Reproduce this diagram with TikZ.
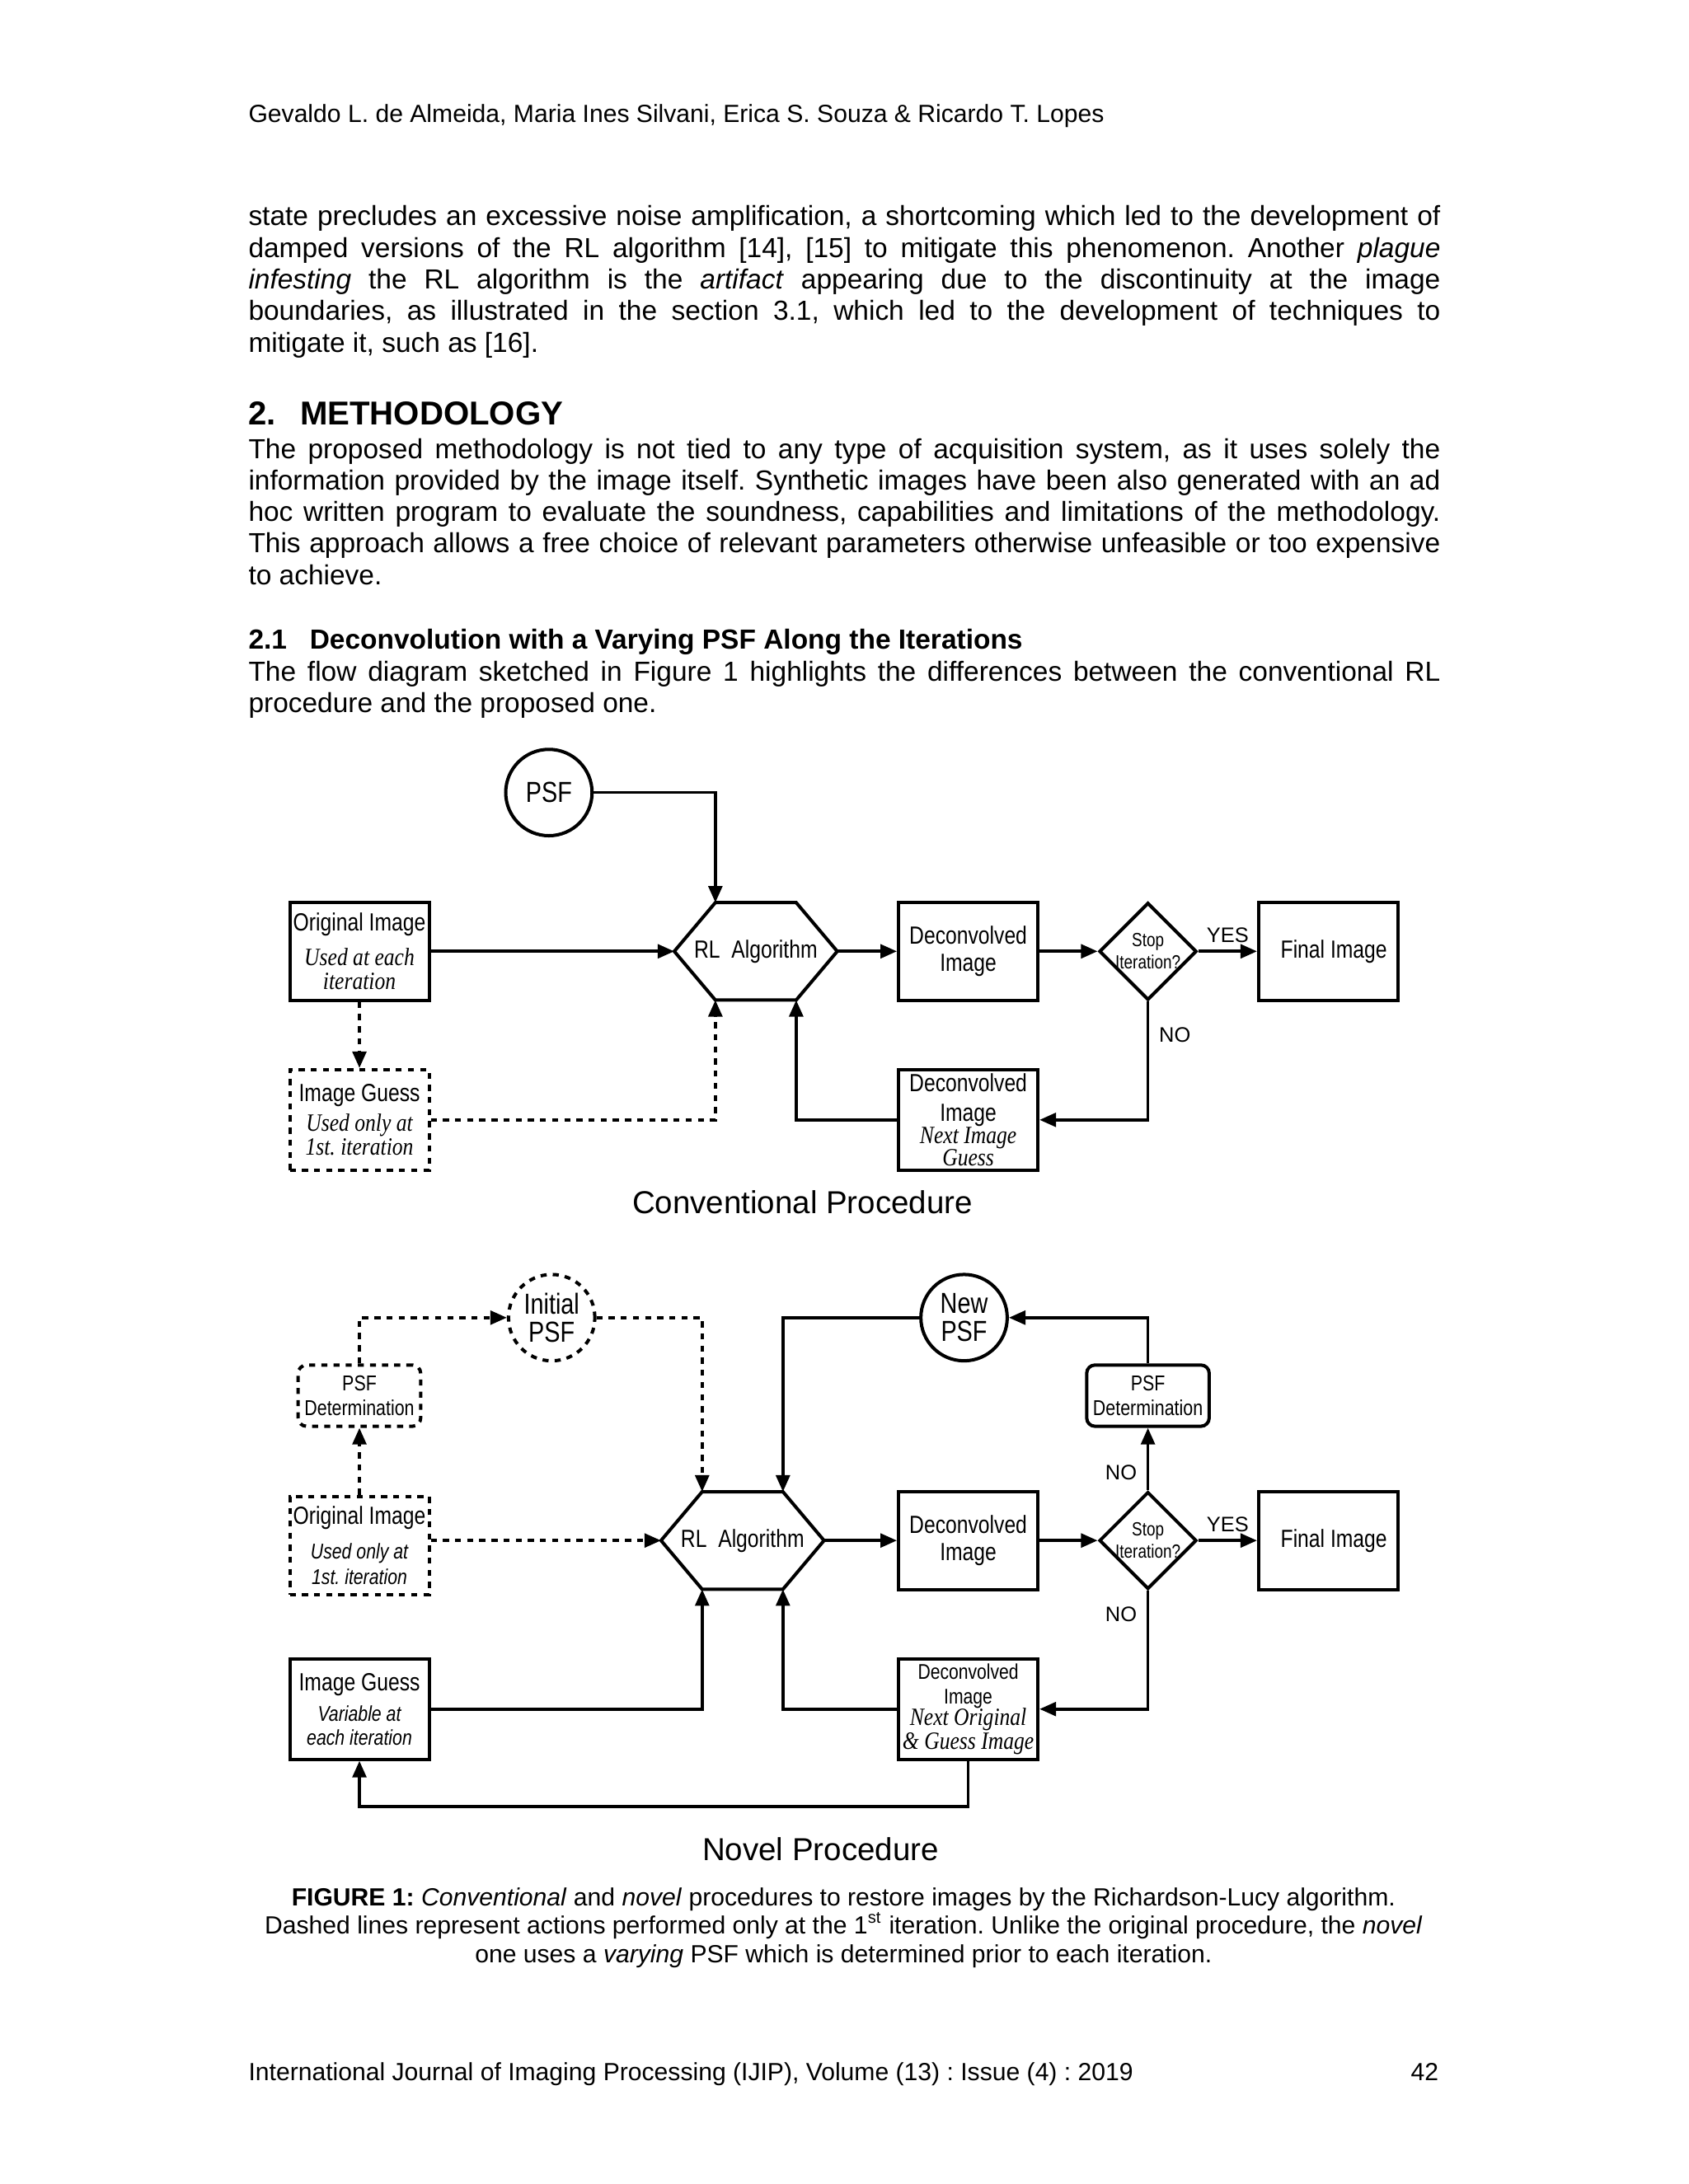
\documentclass[tikz,border=0pt]{standalone}
\usepackage{fontspec}
\setmainfont{Liberation Sans}
\newfontfamily\narrowsf[FakeStretch=0.82]{Liberation Sans}
\newfontfamily\narrowrm[FakeStretch=0.85]{Liberation Serif}
\usetikzlibrary{arrows.meta,positioning,calc,shapes.geometric}
\newcommand{\jline}[1]{\hbox to 432pt{#1}}
\newcommand{\cenline}[1]{\hbox to 432pt{\hss#1\hss}}
\newcommand{\subrm}{\narrowrm\itshape\fontsize{9}{10}\selectfont}
\newcommand{\subsf}{\narrowsf\itshape\fontsize{7.75}{9}\selectfont}
\frenchspacing

\begin{document}
\begin{tikzpicture}[x=0.50495pt, y=-0.50495pt,
  txt/.style={anchor=base west, inner sep=0pt, font=\fontsize{10}{11.45}\selectfont},
  box/.style={draw, line width=1.2pt, minimum width=50.5pt, minimum height=35.5pt,
              inner sep=0.5pt, align=center, font=\narrowsf\fontsize{9}{10}\selectfont},
  dbox/.style={box, dash pattern=on 2.2pt off 2.2pt},
  pdet/.style={box, rounded corners=3pt, minimum width=44.4pt, minimum height=22.2pt,
               font=\narrowsf\fontsize{7.8}{9}\selectfont},
  dpdet/.style={pdet, dash pattern=on 2.2pt off 2.2pt},
  circ/.style={draw, circle, line width=1.2pt, minimum size=31.3pt, inner sep=0pt,
               align=center, font=\narrowsf\fontsize{10.5}{10}\selectfont},
  dcirc/.style={circ, dash pattern=on 2.2pt off 2.2pt},
  hexline/.style={line width=1.2pt, line join=miter},
  hexlbl/.style={inner sep=0pt, font=\narrowsf\fontsize{9}{10}\selectfont},
  dec/.style={draw, diamond, line width=1.2pt, minimum width=35.3pt,
              minimum height=35.3pt, inner sep=0pt},
  declbl/.style={inner sep=0pt, align=center, font=\narrowsf\fontsize{6.9}{8}\selectfont},
  lbl/.style={font=\fontsize{7.6}{9}\selectfont, inner sep=1.5pt},
  title/.style={anchor=base, inner sep=0pt, font=\fontsize{11.5}{13}\selectfont},
  arr/.style={-{Triangle[length=6pt,width=5pt]}, line width=1.1pt},
  darr/.style={arr, dash pattern=on 2.2pt off 2.2pt}]
  \fill[white] (0,0) rectangle (1212,1568);
  \useasboundingbox (0,0) rectangle (1212,1568);

  % page text
  \node[txt, font=\fontsize{9}{10}\selectfont] (hdr) at (178,88)
    {Gevaldo L. de Almeida, Maria Ines Silvani, Erica S. Souza \& Ricardo T. Lopes};
  \node[txt] (par1) at (178,162) {\vtop{\baselineskip=11.45pt
    \jline{state precludes an excessive noise amplification, a shortcoming which led to the development of}
    \jline{damped versions of the RL algorithm [14], [15] to mitigate this phenomenon. Another \textit{plague}}
    \jline{\textit{infesting} the RL algorithm is the \textit{artifact} appearing due to the discontinuity at the image}
    \jline{boundaries, as illustrated in the section 3.1, which led to the development of techniques to}
    \hbox{mitigate it, such as [16].}}};
  \node[txt, font=\bfseries\fontsize{12}{14}\selectfont] (sec2) at (178,305)
    {\makebox[18.7pt][l]{2.}METHODOLOGY};
  \node[txt] (par2) at (178,329) {\vtop{\baselineskip=11.45pt
    \jline{The proposed methodology is not tied to any type of acquisition system, as it uses solely the}
    \jline{information provided by the image itself. Synthetic images have been also generated with an ad}
    \jline{hoc written program to evaluate the soundness, capabilities and limitations of the methodology.}
    \jline{This approach allows a free choice of relevant parameters otherwise unfeasible or too expensive}
    \hbox{to achieve.}}};
  \node[txt, font=\bfseries\fontsize{10}{12}\selectfont] (sec21) at (178,466)
    {\makebox[22.2pt][l]{2.1}Deconvolution with a Varying PSF Along the Iterations};
  \node[txt] (par3) at (178,489) {\vtop{\baselineskip=11.45pt
    \jline{The flow diagram sketched in Figure 1 highlights the differences between the conventional RL}
    \hbox{procedure and the proposed one.}}};

  % conventional procedure
  \node[circ] (psfA) at (394,569) {PSF};
  \node[box] (origA) at (258,683)
    {Original Image\\[2.6pt]{\subrm Used at each}\\[-1.4pt]{\subrm iteration}};
  \node[dbox, minimum height=36.4pt] (guessA) at (258,804)
    {Image Guess\\[0.6pt]{\subrm Used only at}\\[-1.4pt]{\subrm 1st. iteration}};
  \node[hexlbl] (rlA) at (542.5,683) {RL\ \ Algorithm};
  \path (rlA.center) +(-29,-35) coordinate (rlAnw) +(29,-35) coordinate (rlAne)
    +(58.5,0) coordinate (rlAe) +(29,35) coordinate (rlAse)
    +(-29,35) coordinate (rlAsw) +(-58.5,0) coordinate (rlAw);
  \draw[hexline] (rlAnw) -- (rlAne) -- (rlAe) -- (rlAse) -- (rlAsw) -- (rlAw) -- cycle;
  \node[box] (decA) at (695,683) {Deconvolved\\Image};
  \node[dec] (stopA) at (824,683) {};
  \node[declbl] (stopAt) at (stopA) {Stop\\Iteration?};
  \node[box] (finA) at (953.5,683) {\hspace{4pt}Final Image};
  \node[box, minimum height=36.4pt] (nextA) at (695,804)
    {Deconvolved\\[0.6pt]Image\\[-1.9pt]{\subrm Next Image}\\[-1.9pt]{\subrm Guess}};
  \node[title] (convT) at (576,871) {Conventional Procedure};

  \draw[arr] (psfA) -| (rlAnw);
  \draw[arr] (origA) -- (rlAw);
  \draw[arr] (rlAe) -- (decA);
  \draw[arr] (decA) -- (stopA);
  \draw[arr] (stopA) -- node[lbl, above=1pt] {YES} (finA);
  \draw[arr] (stopA) |- node[lbl, right=2pt, pos=0.14] {NO} (nextA);
  \draw[arr] (nextA) -| (rlAse);
  \draw[darr] (guessA) -| (rlAsw);
  \draw[darr] (origA) -- (guessA);

  % novel procedure
  \node[dcirc] (ipsfB) at (396,946) {Initial\\PSF};
  \node[circ] (npsfB) at (692,946) {New\\PSF};
  \node[dpdet] (pdetB1) at (258,1002) {PSF\\Determination};
  \node[pdet] (pdetB2) at (824,1002) {PSF\\Determination};
  \node[dbox] (origB) at (258,1109.5)
    {Original Image\\[2.6pt]{\subsf Used only at}\\[-0.9pt]{\subsf 1st. iteration}};
  \node[hexlbl] (rlB) at (533,1106) {RL\ \ Algorithm};
  \path (rlB.center) +(-29,-35) coordinate (rlBnw) +(29,-35) coordinate (rlBne)
    +(58.5,0) coordinate (rlBe) +(29,35) coordinate (rlBse)
    +(-29,35) coordinate (rlBsw) +(-58.5,0) coordinate (rlBw);
  \draw[hexline] (rlBnw) -- (rlBne) -- (rlBe) -- (rlBse) -- (rlBsw) -- (rlBw) -- cycle;
  \node[box] (decB) at (695,1106) {Deconvolved\\Image};
  \node[dec] (stopB) at (824,1106) {};
  \node[declbl] (stopBt) at (stopB) {Stop\\Iteration?};
  \node[box] (finB) at (953.5,1106) {\hspace{4pt}Final Image};
  \node[box, minimum height=36.4pt] (guessB) at (258,1227)
    {Image Guess\\[1.1pt]{\subsf Variable at}\\[-1.4pt]{\subsf each iteration}};
  \node[box, minimum height=36.4pt, font=\narrowsf\fontsize{7.7}{9}\selectfont] (nextB) at (695,1227)
    {Deconvolved\\Image\\[-1.4pt]{\subrm Next Original}\\[-0.4pt]{\subrm \& Guess Image}};
  \coordinate (backB) at (695,1297);
  \node[title] (novT) at (589,1336) {Novel Procedure};

  \draw[darr] (pdetB1) |- (ipsfB);
  \draw[darr] (ipsfB) -| (rlBnw);
  \draw[darr] (origB) -- (pdetB1);
  \draw[darr] (origB.east |- rlBw) -- (rlBw);
  \draw[arr] (npsfB) -| (rlBne);
  \draw[arr] (pdetB2) |- (npsfB);
  \draw[arr] (stopB) -- node[lbl, left=2pt, pos=0.28] {NO} (pdetB2);
  \draw[arr] (stopB) |- node[lbl, left=2pt, pos=0.1] {NO} (nextB);
  \draw[arr] (stopB) -- node[lbl, above=1pt] {YES} (finB);
  \draw[arr] (rlBe) -- (decB);
  \draw[arr] (decB) -- (stopB);
  \draw[arr] (guessB) -| (rlBsw);
  \draw[arr] (nextB) -| (rlBse);
  \draw[arr] (nextB) -- (backB) -| (guessB);

  % caption and footer
  \node[txt, anchor=base, font=\fontsize{9}{10.35}\selectfont] (cap) at (605.5,1368) {\vtop{\baselineskip=10.35pt
    \cenline{\textbf{FIGURE 1:} \textit{Conventional} and \textit{novel} procedures to restore images by the Richardson-Lucy algorithm.}
    \cenline{Dashed lines represent actions performed only at the 1\textsuperscript{st} iteration. Unlike the original procedure, the \textit{novel}}
    \cenline{one uses a \textit{varying} PSF which is determined prior to each iteration.}}};
  \node[txt, font=\fontsize{9}{10}\selectfont] (foot) at (178,1494)
    {International Journal of Imaging Processing (IJIP), Volume (13) : Issue (4) : 2019};
  \node[txt, anchor=base east, font=\fontsize{9}{10}\selectfont] (pageno) at (1033,1494) {42};
\end{tikzpicture}
\end{document}
